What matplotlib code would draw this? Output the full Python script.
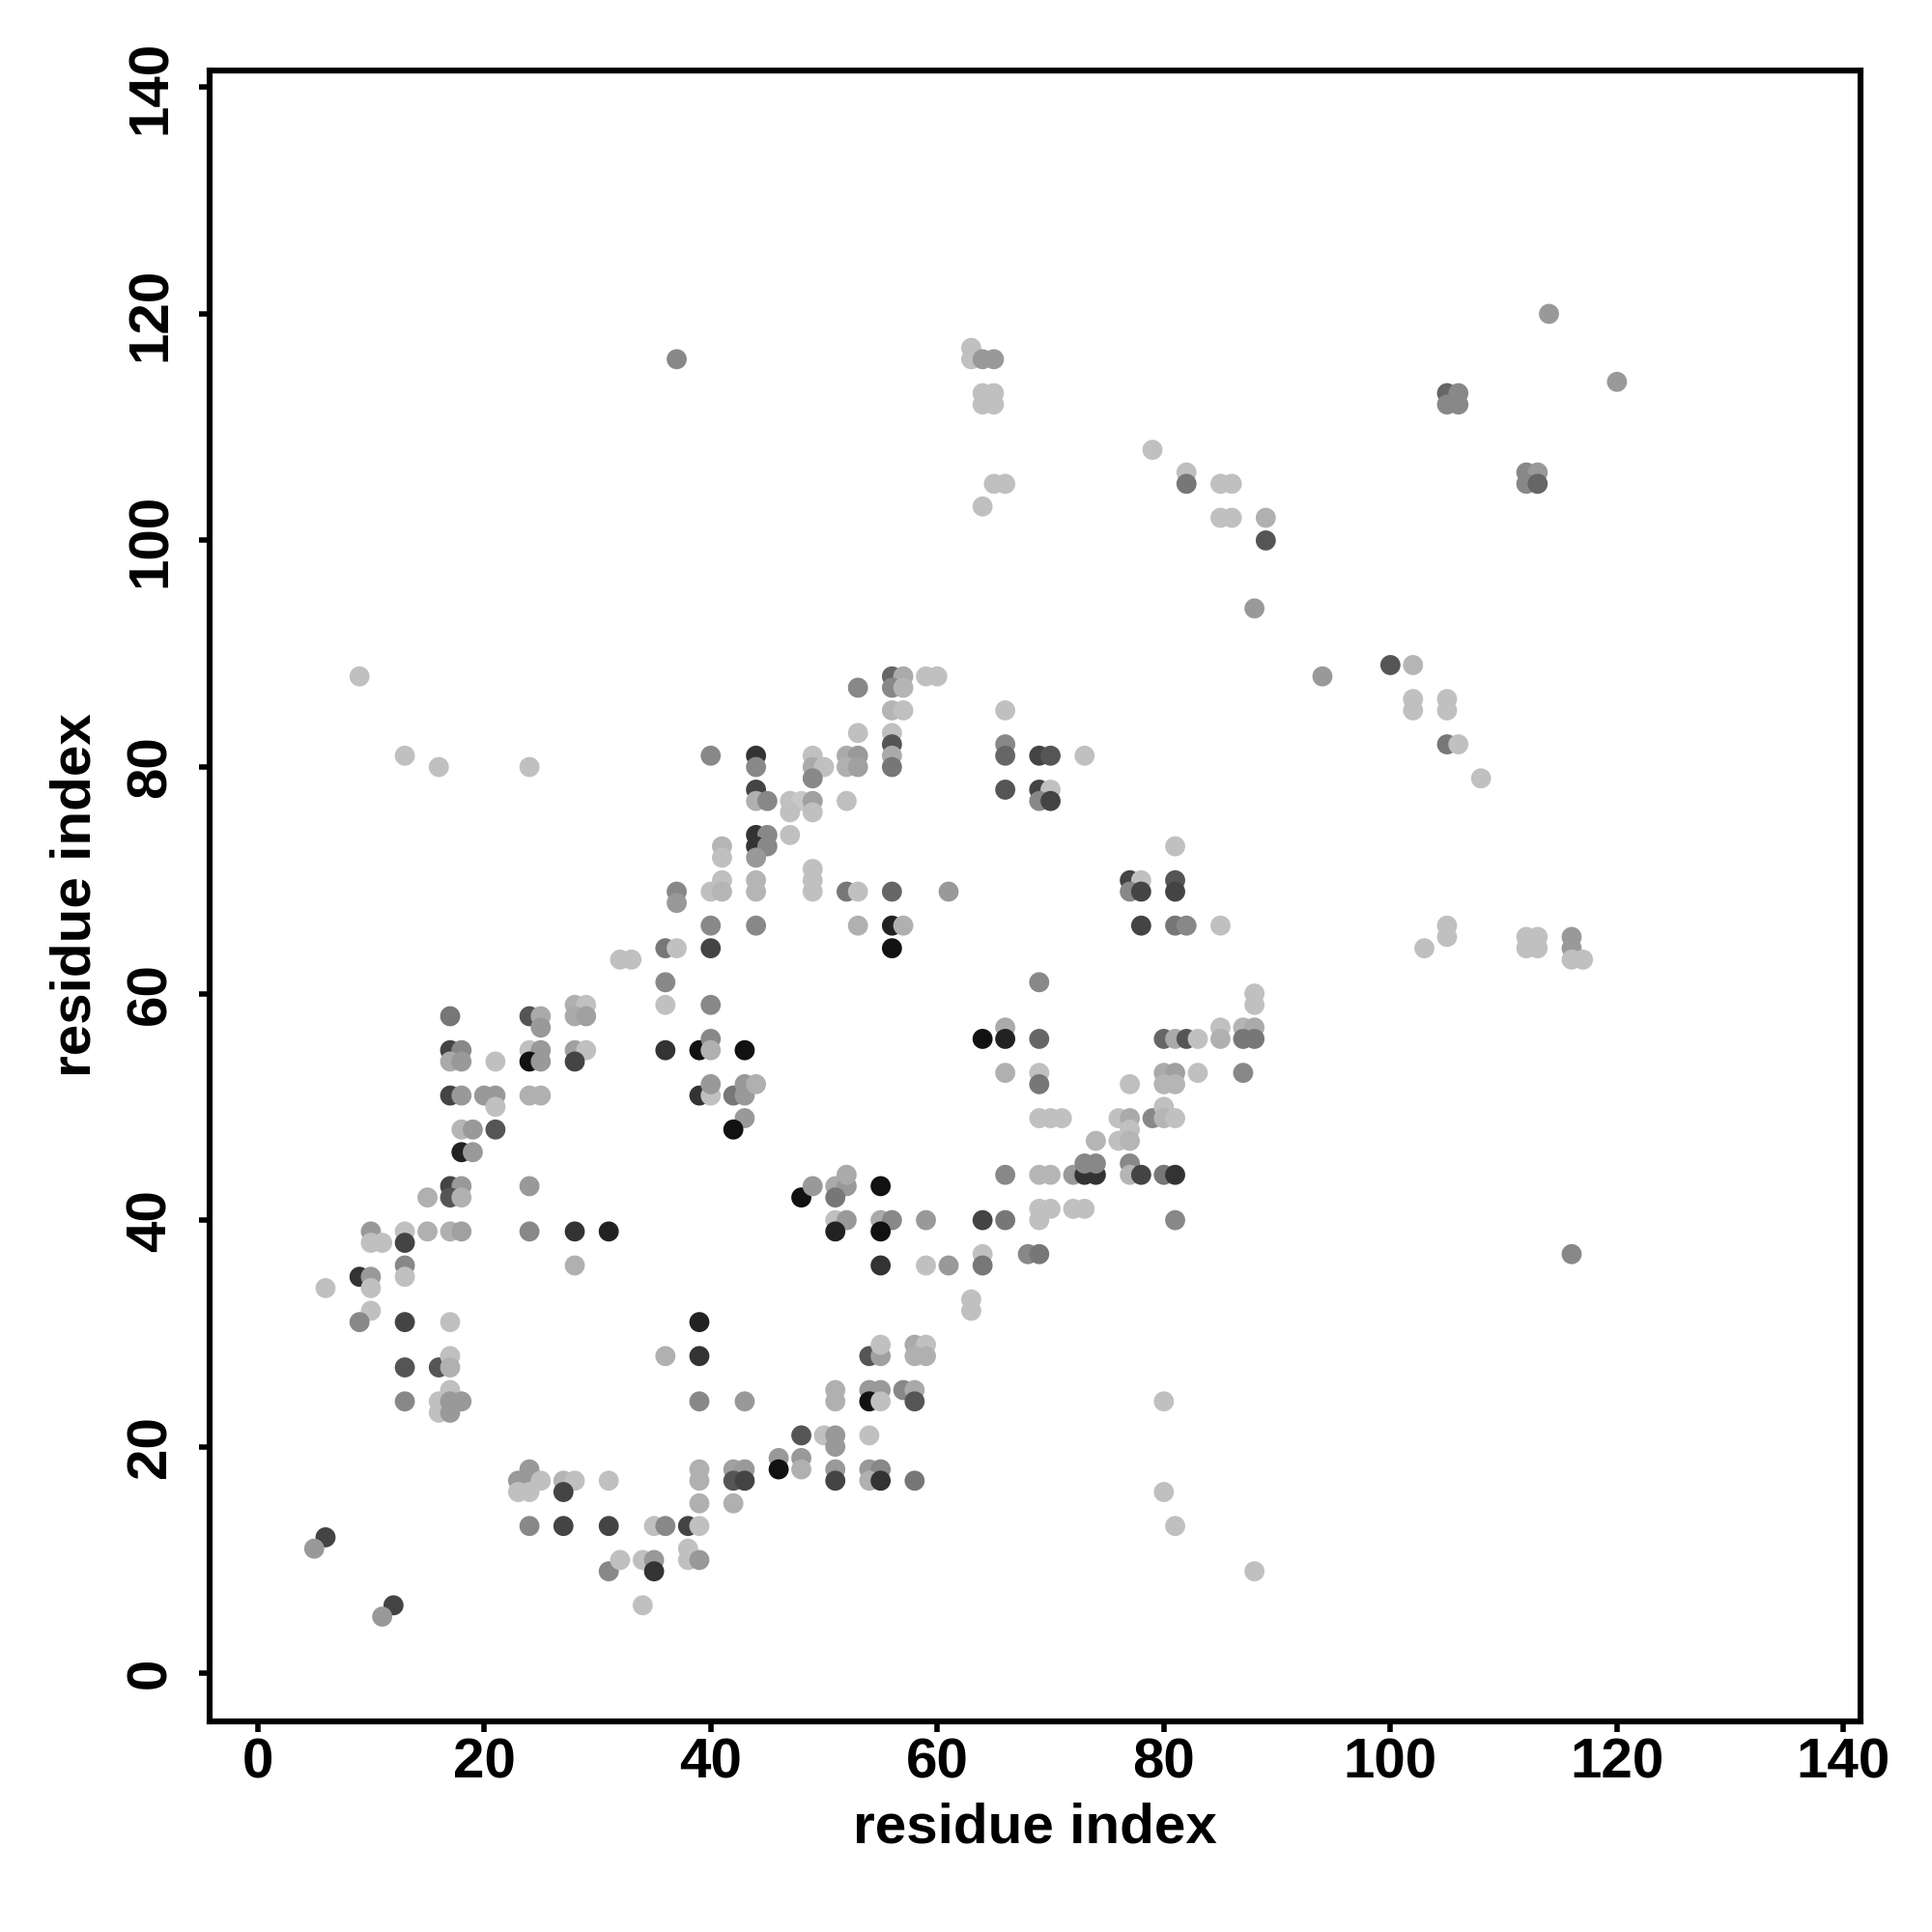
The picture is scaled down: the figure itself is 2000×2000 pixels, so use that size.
import matplotlib
matplotlib.use("Agg")
import matplotlib.pyplot as plt

# residue i, residue j, grey shade (0 = black, 255 = white)
res_i = [10,10,11,13,13,15,17,18,24,28,31,13,13,9,10,10,6,10,9,13,17,13,16,17,17,13,16,16,17,17,17,18,
         24,23,24,25,23,24,27,28,27,31,24,27,31,31,6,5,12,11,28,
         51,52,51,55,56,55,59,55,59,61,63,63,39,36,39,54,55,55,58,59,58,59,39,43,51,51,54,55,54,55,57,58,58,
         48,50,51,51,54,46,46,48,48,39,39,42,43,42,43,51,51,54,55,54,55,58,39,42,35,36,38,39,32,34,35,35,38,38,39,34,
         64,66,69,70,69,72,73,81,64,64,68,69,80,80,81,88,
         13,16,24,17,24,25,25,28,29,28,29,17,18,17,18,21,24,25,24,25,28,29,28,17,18,20,21,21,24,25,18,19,21,18,19,
         17,18,17,18,15,24,
         53,56,40,44,44,56,56,56,49,49,50,49,52,53,52,53,44,44,45,47,48,49,47,49,52,47,44,45,44,45,44,41,41,37,37,
         41,40,41,44,44,49,49,49,52,53,56,61,40,44,53,56,57,56,36,37,40,32,33,36,36,40,36,39,40,40,43,39,40,40,42,
         43,43,44,43,42,48,49,51,52,52,51,55,
         66,66,69,70,73,66,69,70,69,70,81,77,78,77,78,81,81,78,81,82,85,69,88,88,64,66,66,69,80,81,82,83,85,85,87,
         88,87,88,66,69,69,77,80,81,80,81,83,87,69,70,71,76,77,77,76,77,79,80,80,81,74,66,69,70,72,73,74,73,74,77,
         77,78,80,81,
         105,106,108,105,105,103,112,113,112,113,116,116,116,117,116,9,
         37,63,63,53,56,57,56,57,59,60,56,57,
         64,65,64,65,64,65,79,82,82,85,86,65,66,64,85,86,89,89,88,94,66,
         114,120,105,106,105,106,112,113,112,113,100,102,102,102,105,105]
res_j = [39,38,38,39,38,39,39,39,39,39,39,36,35,35,35,34,34,32,31,31,31,27,27,28,27,24,24,23,25,24,23,24,
         18,17,17,17,16,16,17,17,16,17,13,13,13,9,12,11,6,5,36,
         40,40,39,40,40,39,40,36,36,36,33,32,31,28,28,28,28,29,29,29,28,28,24,24,25,24,25,25,24,24,25,25,24,
         21,21,21,20,21,19,18,19,18,18,17,18,18,17,17,18,17,18,18,17,17,17,15,15,13,13,13,13,10,10,10,9,11,10,10,6,
         40,40,41,41,40,41,41,40,37,36,37,37,24,16,13,9,
         81,80,80,58,58,58,57,59,59,58,58,55,55,54,54,54,55,55,54,54,55,55,54,51,51,51,51,50,51,51,48,48,48,46,46,
         43,43,42,42,42,43,
         83,83,81,81,80,82,81,80,81,80,80,79,81,81,80,80,78,77,77,77,77,77,76,76,77,74,74,74,73,73,72,73,72,69,68,
         70,69,69,70,69,71,70,69,69,69,69,69,66,66,66,66,66,64,64,64,64,63,63,61,59,59,55,55,56,55,55,51,51,52,51,
         51,52,52,49,48,42,43,43,43,44,42,43,
         82,81,81,81,81,78,78,78,77,77,73,70,70,69,69,70,69,66,66,66,66,61,60,59,56,57,56,56,56,56,56,56,57,56,57,
         57,56,56,53,53,52,52,53,53,52,52,53,53,49,49,49,49,49,48,47,47,49,50,49,49,47,44,44,44,44,44,44,45,45,45,
         44,44,44,44,
         82,82,79,66,65,64,65,65,64,64,65,64,63,63,37,88,
         116,117,116,87,88,88,87,87,88,88,85,85,
         116,116,113,113,112,112,108,106,105,105,105,105,105,103,102,102,102,100,94,88,85,
         120,114,113,113,112,112,106,106,105,105,89,89,86,85,86,85]
shade = [0x99,0xc0,0xc0,0xc0,0x44,0xb0,0xb0,0xa0,0x88,0x33,0x22,0x88,0xc0,0x33,0x99,0xc0,0xc0,0xc0,0x88,0x44,0xc0,0x55,0x55,0xc0,0xb0,0x88,0xc0,0xc0,0xc0,0x99,0x99,0x99,
         0x99,0x99,0x99,0xc0,0xc0,0xc0,0xb5,0xc0,0x44,0xc0,0x88,0x44,0x44,0x88,0x44,0x99,0x44,0x99,0xb0,
         0xc0,0x99,0x22,0xaa,0x88,0x11,0x99,0x33,0xc0,0x99,0xc0,0xc0,0x22,0xb0,0x33,0x55,0xa0,0xc0,0xaa,0xc0,0xb0,0xb0,0x88,0x99,0xb0,0xb0,0x99,0x99,0x11,0xc0,0x88,0xaa,0x55,
         0x55,0xc0,0x99,0x99,0xc0,0x99,0x11,0x99,0xb0,0xb0,0xb0,0xa0,0x99,0x55,0x44,0x99,0x44,0x99,0x88,0xb0,0x33,0x77,0xb0,0xb0,0xc0,0x88,0x44,0xc0,0xc0,0xc0,0x99,0x33,0xc0,0xc0,0x99,0xc0,
         0x44,0x77,0xc0,0xc0,0xc0,0xc0,0xc0,0x88,0xc0,0x77,0x88,0x77,0xc0,0xc0,0xc0,0xc0,
         0xc0,0xc0,0xc0,0x77,0x55,0xaa,0x99,0xb0,0xc0,0xaa,0xa0,0x44,0x88,0xaa,0x99,0xc0,0xc0,0x99,0x11,0x99,0xa0,0xc0,0x44,0x44,0x99,0x99,0x99,0xc0,0xb0,0xb0,0xb5,0x99,0x55,0x22,0x99,
         0x44,0x99,0x55,0xb0,0xb0,0x99,
         0xc0,0xc0,0x88,0x33,0x88,0x55,0xaa,0x77,0xc0,0xaa,0xc0,0x88,0xaa,0x99,0xb0,0xa0,0x44,0xb0,0x88,0xc0,0xc8,0xa0,0xc0,0xc0,0xc0,0xc0,0x33,0x88,0x33,0x88,0x99,0xb5,0xc0,0x88,0x99,
         0xc0,0xc0,0xb5,0xb5,0xb5,0xc0,0xc0,0xc0,0x77,0xc0,0x66,0x99,0x88,0x88,0xb0,0x22,0xb0,0x11,0x77,0xc0,0x44,0xc0,0xc0,0x88,0xc0,0x88,0x33,0x11,0x88,0xb0,0x11,0x33,0xc0,0x99,0x77,
         0x99,0x99,0xb0,0x99,0x11,0x11,0x99,0xaa,0x99,0xaa,0x77,0x11,
         0x88,0x66,0x44,0x55,0xc0,0x55,0x44,0xc0,0x88,0x44,0xc0,0x44,0xc0,0x88,0x44,0x55,0x44,0x44,0x77,0x88,0xc0,0x88,0xc0,0xc0,0x11,0xaa,0x22,0x66,0x66,0xaa,0x55,0xc0,0xc0,0xb0,0xb5,
         0xaa,0x77,0x77,0xb0,0xc0,0x77,0xc0,0xaa,0xa0,0xb5,0xb5,0xc0,0x88,0xc0,0xc0,0xc0,0xc0,0xaa,0xc0,0xc0,0xb5,0x88,0xc0,0xb5,0xc0,0xb5,0x88,0xb5,0xb5,0x99,0x33,0x33,0x88,0x88,0x88,
         0xb5,0x44,0x77,0x33,
         0x77,0xc0,0xc0,0xc0,0xc0,0xc0,0xc0,0xc0,0xc0,0xc0,0x99,0x99,0xc0,0xc0,0x88,0xc0,
         0x88,0xc0,0xc0,0x88,0x66,0xaa,0x88,0xb5,0xc0,0xc0,0xb5,0xc0,
         0x99,0x99,0xc0,0xc0,0xc0,0xc0,0xc0,0xc0,0x77,0xc0,0xc0,0xc0,0xc0,0xc0,0xc0,0xc0,0xb0,0x55,0x99,0x99,0xc0,
         0x99,0x99,0x66,0x88,0x88,0x88,0x88,0x99,0x88,0x66,0x55,0xb5,0xc0,0xc0,0xc0,0xc0]

tick_vals = [0, 20, 40, 60, 80, 100, 120, 140]
axis_label = "residue index"

plt.rcParams['font.family'] = ['Liberation Sans', 'DejaVu Sans']
plt.rcParams['font.weight'] = 'bold'

fig = plt.figure(figsize=(10, 10), dpi=200)
ax = fig.add_axes([0.1084, 0.109, 0.8546, 0.8546])

n = min(len(res_i), len(res_j), len(shade))
colors = [(v / 255.0,) * 3 for v in shade[:n]]
ax.scatter(res_i[:n], res_j[:n], s=56, c=colors, marker='o', linewidths=0, zorder=3)

ax.set_xlim(-4.25, 141.5)
ax.set_ylim(-4.25, 141.5)
ax.set_xticks(tick_vals)
ax.set_yticks(tick_vals)
ax.set_xticklabels([str(t) for t in tick_vals], fontsize=21, fontweight='bold')
ax.set_yticklabels([str(t) for t in tick_vals], fontsize=21, fontweight='bold',
                   rotation=90, va='center')
ax.tick_params(axis='both', direction='out', length=4, width=2.0, color='black')
ax.tick_params(axis='x', pad=2)
ax.tick_params(axis='y', pad=8)
for sp in ax.spines.values():
    sp.set_linewidth(2.2)
    sp.set_color('black')

fig.text((216.8 + 1926) / 2 / 2000, 1 - 1892 / 2000, axis_label, ha='center', va='center',
         fontsize=21, fontweight='bold')
fig.text(79 / 2000, 1 - 927 / 2000, axis_label, ha='center', va='center', rotation=90,
         fontsize=21, fontweight='bold')

fig.savefig("out.png", dpi=200, facecolor='white')
